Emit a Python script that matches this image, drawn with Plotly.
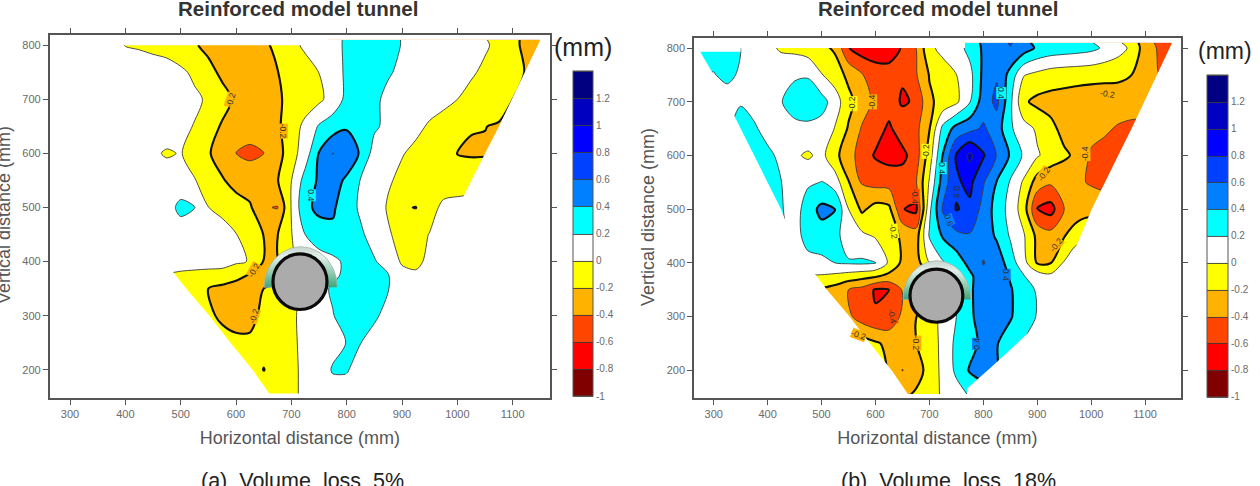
import numpy as np
import plotly.graph_objects as go

N = float("nan")

# Horizontal and vertical positions of the settlement readings (mm)
x_mm = [275, 300, 325, 350, 375, 400, 425, 450, 475, 500, 525, 550,
        575, 600, 625, 650, 675, 700, 725, 750, 775, 800, 825, 850,
        875, 900, 925, 950, 975, 1000, 1025, 1050, 1075, 1100, 1125, 1150]
y_mm = [810, 800, 750, 700, 650, 600, 550, 500, 450, 400, 375, 350, 300, 250, 200, 155]

# Displacement (mm) at volume loss 5 %
z_loss_5 = [
    [N,N,N,N,N,N, N,N,N,N,N,N, N,N,N,N,N,N, N,N,N,.22,.28,.30, .28,.19,N,N,N,N, N,N,-.04,-.15,-.25,-.30],
    [.1,.1,.1,.1,.05,-.005, -.02,-.05,-.09,-.14,-.18,-.25, -.3,-.33,-.3,-.24,-.15,-.05, .03,.1,.16,.22,.28,.3, .28,.19,.15,.12,.1,.08, .05,.02,-.04,-.15,-.25,-.3],
    [N,.1,.1,.1,.1,.1, .1,.1,.1,.04,-.04,-.14, -.24,-.28,-.3,-.25,-.205,-.13, -.07,.002,.12,.23,.3,.28, .22,.16,.12,.1,.08,.05, .02,-.03,-.09,-.15,-.21,N],
    [N,N,.1,.1,.1,.1, .1,.1,.1,.1,.04,-.03, -.13,-.23,-.28,-.27,-.22,-.16, -.1,-.04,.08,.25,.3,.24, .15,.12,.1,.07,.04,0, -.05,-.1,-.15,-.2,N,N],
    [N,N,N,.1,.1,.1, .1,.1,.1,.05,-.01,-.12, -.22,-.3,-.34,-.3,-.23,-.1, .05,.22,.3,.38,.33,.23, .15,.1,.04,-.02,-.06,-.14, -.195,-.198,-.21,-.22,N,N],
    [N,N,N,N,.1,.1, .1,.03,-.02,.01,-.08,-.18, -.3,-.402,-.43,-.405,-.28,-.08, .1,.41,.605,.52,.38,.12, .06,.01,-.04,-.08,-.14,-.205, -.21,-.21,-.21,N,N,N],
    [N,N,N,N,N,.1, .1,.1,.1,.08,.01,-.08, -.18,-.28,-.32,-.3,-.21,-.001, .28,.43,.47,.37,.19,.12, .02,-.04,-.08,-.11,-.14,-.15, -.14,-.13,-.12,N,N,N],
    [N,N,N,N,N,N, .1,.1,.12,.25,.205,.002, -.04,-.1,-.17,-.385,-.41,.01, .36,.44,.42,.32,.16,.1, -.02,-.19,-.203,-.1,.06,.1, .1,N,N,N,N,N],
    [N,N,N,N,N,N, N,.1,.1,.1,.1,.1, .06,.005,-.07,-.205,-.205,-.01, .2,.32,.37,.37,.24,.1, .02,-.06,-.09,.01,.07,.1, N,N,N,N,N,N],
    [N,N,N,N,N,N, N,N,.1,.05,.05,.05, .05,.03,-.01,-.21,-.21,-.02, .05,.1,.15,.24,.3,.22, .1,-.02,-.03,.03,.1,N, N,N,N,N,N,N],
    [N,N,N,N,N,N, N,N,-.01,-.02,-.03,-.04, -.05,-.15,-.21,-.28,-.28,-.1, .05,.1,.15,.25,.33,.3, .21,.05,.02,.1,N,N, N,N,N,N,N,N],
    [N,N,N,N,N,N, N,N,N,-.05,-.09,-.2, -.26,-.27,-.25,-.2,-.15,-.05, .04,.13,.23,.3,.33,.3, .21,.05,.02,N,N,N, N,N,N,N,N,N],
    [N,N,N,N,N,N, N,N,N,N,-.1,-.15, -.25,-.27,-.25,-.16,-.1,-.03, .05,.11,.19,.3,.33,.24, .12,.05,N,N,N,N, N,N,N,N,N,N],
    [N,N,N,N,N,N, N,N,N,N,N,-.08, -.1,-.16,-.17,-.14,-.1,-.03, .04,.08,.13,.205,.205,.1, .1,N,N,N,N,N, N,N,N,N,N,N],
    [N,N,N,N,N,N, N,N,N,N,N,N, N,-.08,-.1,-.205,-.12,-.04, .04,.08,.22,.22,.1,N, N,N,N,N,N,N, N,N,N,N,N,N],
    [N,N,N,N,N,N, N,N,N,N,N,N, N,N,-.08,-.08,-.1,-.05, .05,.1,.1,.1,N,N, N,N,N,N,N,N, N,N,N,N,N,N],
]

# Displacement (mm) at volume loss 18 %
z_loss_18 = [
    [N,N,N,N,N,N, N,N,N,N,N,N, N,N,N,N,N,N, N,N,.25,.45,.5,.62, .5,.3,.25,.25,.22,.21, .12,N,-.1,-.3,-.45,-.5],
    [.25,.28,.28,.2,.1,.04, -.02,-.05,-.1,-.15,-.23,-.59, -.7,-.75,-.7,-.58,-.4,-.05, .06,.12,.26,.43,.5,.59, .5,.37,.32,.3,.28,.25, .17,.08,-.04,-.3,-.42,-.5],
    [N,.19,.25,.17,.1,.1, .1,.17,.18,.01,-.1,-.25, -.39,-.47,-.52,-.58,-.42,-.19, -.1,-.002,.14,.45,.58,.33, .01,-.05,-.1,-.12,-.13,-.14, -.15,-.16,-.2,-.3,-.4,N],
    [N,N,.1,.19,.12,.1, .19,.3,.33,.28,.1,-.14, -.3,-.45,-.52,-.62,-.58,-.23, -.14,-.04,.19,.5,.65,.25, -.17,-.25,-.27,-.28,-.3,-.31, -.31,-.3,-.3,-.3,N,N],
    [N,N,N,.25,.23,.12, .1,.14,.15,.12,-.01,-.22, -.42,-.52,-.63,-.5,-.46,-.21, .26,.47,.54,.63,.5,.23, .08,-.03,-.15,-.26,-.3,-.33, -.37,-.42,-.45,-.45,N,N],
    [N,N,N,N,.22,.25, .15,.03,-.03,.06,-.15,-.31, -.5,-.62,-.67,-.65,-.5,-.1, .41,.82,1.05,.82,.59,.38, .17,.02,-.08,-.17,-.24,-.43, -.47,-.48,-.48,N,N,N],
    [N,N,N,N,N,.25, .205,.1,.17,.205,.1,-.19, -.42,-.47,-.48,-.5,-.42,.02, .5,.77,.85,.62,.39,.18, -.03,-.29,-.37,-.33,-.37,-.42, -.45,-.45,N,N,N,N],
    [N,N,N,N,N,N, .22,.1,.31,.45,.41,.002, -.24,-.12,-.15,-.59,-.65,.15, .63,.81,.76,.53,.32,.13, -.1,-.61,-.68,-.4,-.33,-.28, -.3,N,N,N,N,N],
    [N,N,N,N,N,N, .25,.1,.3,.32,.26,.1, .05,-.02,-.12,-.23,-.3,.22, .42,.55,.58,.52,.37,.18, .02,-.25,-.32,-.21,-.05,-.02, N,N,N,N,N,N],
    [N,N,N,N,N,N, N,.1,.12,.15,.2,.22, .23,.21,-.03,-.24,-.3,.005, .18,.28,.47,.61,.52,.3, .07,-.22,-.205,.02,.1,N, N,N,N,N,N,N],
    [N,N,N,N,N,N, N,N,-.01,-.02,-.05,-.09, -.13,-.18,-.26,-.33,-.35,-.3, -.1,.1,.35,.55,.55,.38, .21,.12,.05,.1,N,N, N,N,N,N,N,N],
    [N,N,N,N,N,N, N,N,N,-.22,-.28,-.4, -.47,-.62,-.6,-.385,-.36,-.25, -.1,.2,.37,.5,.55,.42, .28,.18,.1,N,N,N, N,N,N,N,N,N],
    [N,N,N,N,N,N, N,N,N,N,-.3,-.36, -.5,-.58,-.55,-.36,-.205,-.1, .05,.2,.36,.5,.52,.42, .28,.19,.1,N,N,N, N,N,N,N,N,N],
    [N,N,N,N,N,N, N,N,N,N,N,-.05, -.1,-.17,-.25,-.3,-.205,-.1, .05,.25,.33,.45,.41,.3, .2,N,N,N,N,N, N,N,N,N,N,N],
    [N,N,N,N,N,N, N,N,N,N,N,N, N,-.1,-.22,-.405,-.3,-.12, .05,.24,.42,.47,.4,N, N,N,N,N,N,N, N,N,N,N,N,N],
    [N,N,N,N,N,N, N,N,N,N,N,N, N,N,-.25,-.25,-.17,-.09, .03,.12,.22,.3,N,N, N,N,N,N,N,N, N,N,N,N,N,N],
]
for grid in (z_loss_5, z_loss_18):
    assert all(len(row) == len(x_mm) for row in grid) and len(grid) == len(y_mm)

# Outline of the instrumented zone (mm), walked anticlockwise
zone_x = [275, 300, 325, 350, 375, 400, 425, 440, 465, 487, 510, 552, 590, 630, 660,
          770, 770, 815, 889, 925, 964, 1001, 1025, 1050, 1075, 1098, 1122, 1150,
          766, 766, 350, 350, 275]
zone_y = [793, 750, 700, 650, 600, 550, 500, 460, 400, 380, 350, 300, 250, 200, 156,
          156, 166, 206, 275, 340, 411, 500, 550, 600, 650, 700, 750, 810,
          810, 800, 800, 793, 793]

# One colour per 0.2 mm band, from -1 up to 1.4
band_colors = ["#800000", "#ff0000", "#ff4500", "#ffb300", "#ffff00", "#ffffff",
               "#00ffff", "#0080ff", "#0040ff", "#0000ff", "#0000c0", "#000080"]
bar_ticks = [-1, -0.8, -0.6, -0.4, -0.2, 0, 0.2, 0.4, 0.6, 0.8, 1, 1.2]
bar_labels = ["-1", "-0.8", "-0.6", "-0.4", "-0.2", "0", "0.2", "0.4", "0.6", "0.8", "1", "1.2"]

# Plotly samples a filled band near the stop (i + 1) / 12, so each colour holds flat around it
n_bands = len(band_colors)
colorscale = [[0, band_colors[0]]]
for i, c in enumerate(band_colors):
    colorscale += [[(i + 0.5) / n_bands, c], [min((i + 1.5) / n_bands, 1), c]]

# Contour labels: x, y, text, angle, colour behind the text
labels_5 = [
    (591, 698, "-0.2", -72, "#ffb300"), (685, 642, "-0.2", 90, "#ffb300"),
    (736, 522, "0.4", 90, "#00ffff"), (632, 385, "-0.2", -60, "#ffb300"),
    (632, 300, "-0.2", -72, "#ffb300"),
]
labels_18 = [
    (558, 697, "-0.2", -90, "#ffff00"), (593, 700, "-0.4", -90, "#ffb300"),
    (694, 607, "-0.2", -90, "#ffff00"), (722, 576, "0.4", 90, "#00ffff"),
    (751, 532, "0.8", 90, "#0040ff"), (736, 480, "0.6", 70, "#0080ff"),
    (833, 716, "0.4", 90, "#00ffff"), (673, 523, "-0.4", 90, "#ff4500"),
    (634, 458, "-0.2", 80, "#ffff00"), (1031, 714, "-0.2", 10, "#ffb300"),
    (990, 604, "-0.4", -90, "#ffb300"), (912, 566, "-0.2", -55, "#ffb300"),
    (935, 433, "-0.2", -50, "#ffb300"), (841, 377, "0.4", 90, "#0080ff"),
    (789, 250, "0.4", -90, "#0080ff"), (675, 250, "-0.2", 90, "#ffb300"),
    (632, 300, "-0.4", 80, "#ff4500"), (569, 265, "-0.2", 20, "#ffb300"),
]

W, H = 1260, 486
TICK_GREY = "#6a6a6a"
TEXT_GREY = "#555555"
SANS = "Liberation Sans, Arial, sans-serif"

panels = [
    dict(z=z_loss_5, labels=labels_5, xr=[263.3, 1167.4], yr=[147.7, 819],
         px=(49.7, 550), py=(35, 398), bar=(572.7, 19.5, 71, 396), unit=(583, 47),
         title_x=298, cap_x=302, cap="(a)  Volume  loss  5%", ytitle=(4, 215),
         tunnel=(715.6, 362.8, 48.8, 51.4), lining=(717, 352.4, 66, 75)),
    dict(z=z_loss_18, labels=labels_18, xr=[263.5, 1166], yr=[147.9, 819.2],
         px=(694, 1180.7), py=(37.7, 398.3), bar=(1206.7, 21, 75, 396.7), unit=(1225, 51),
         title_x=938, cap_x=948, cap="(b)  Volume  loss  18%", ytitle=(648, 217),
         tunnel=(713, 339, 49, 49.5), lining=(714, 332, 63, 72)),
]

fig = go.Figure()
annotations, shapes = [], []
layout_axes = {}


def page_text(x, y, text, size, color, bold=False, angle=0):
    """Text placed by page position, centred on that position."""
    return dict(x=x / W, y=1 - y / H, xref="paper", yref="paper", xanchor="center", yanchor="middle",
                showarrow=False, textangle=angle, text=f"<b>{text}</b>" if bold else text,
                font=dict(size=size, color=color, family=SANS))


for k, p in enumerate(panels):
    xa, ya = ("x", "y") if k == 0 else ("x2", "y2")
    # Filled bands with thin outlines
    fig.add_trace(go.Contour(
        x=x_mm, y=y_mm, z=p["z"], xaxis=xa, yaxis=ya, connectgaps=True,
        zmin=-1, zmax=1.4, zauto=False, colorscale=colorscale,
        contours=dict(start=-1, end=1.4, size=0.2, coloring="fill"),
        line=dict(color="#3a3a3a", width=0.9, smoothing=0.85),
        hoverinfo="skip",
        colorbar=dict(
            xref="container", yref="container", x=p["bar"][0] / W, xanchor="left",
            y=1 - p["bar"][3] / H, yanchor="bottom", xpad=0, ypad=0,
            thickness=p["bar"][1], thicknessmode="pixels",
            len=(p["bar"][3] - p["bar"][2]) / H, lenmode="fraction",
            tickvals=bar_ticks, ticktext=bar_labels, ticks="",
            tickfont=dict(size=10, color=TICK_GREY, family=SANS),
            outlinecolor="#555555", outlinewidth=1, ticklabelposition="outside",
        ),
    ))
    # Heavier lines on the alternating contours
    for start, end, size in ((-0.6, -0.2, 0.4), (0.4, 1.2, 0.4)):
        fig.add_trace(go.Contour(
            x=x_mm, y=y_mm, z=p["z"], xaxis=xa, yaxis=ya, connectgaps=True,
            showscale=False, hoverinfo="skip", colorscale=colorscale,
            zmin=-1, zmax=1.4, zauto=False,
            contours=dict(start=start, end=end, size=size, coloring="none"),
            line=dict(color="#111111", width=2.1, smoothing=0.85),
        ))

    # Blank out everything beyond the instrumented zone
    x0, x1 = p["xr"]
    y0, y1 = p["yr"]
    fig.add_trace(go.Scatter(
        x=[x0, x0, x1, x1, x0] + zone_x + [x0],
        y=[y0, y1, y1, y0, y0] + zone_y + [y0],
        xaxis=xa, yaxis=ya, mode="lines", fill="toself", fillcolor="white",
        line=dict(width=0), hoverinfo="skip", showlegend=False,
    ))

    # Tunnel lining: half ring above the springline
    lx, ly, lrx, lry = p["lining"]
    ang = np.linspace(0, np.pi, 60)
    ring_x = np.r_[lx + lrx * np.cos(ang), lx + 0.72 * lrx * np.cos(ang[::-1])]
    ring_y = np.r_[ly + lry * np.sin(ang), ly + 0.72 * lry * np.sin(ang[::-1])]
    fig.add_trace(go.Scatter(
        x=ring_x, y=ring_y, xaxis=xa, yaxis=ya, mode="lines", fill="toself",
        line=dict(color="#9fb5aa", width=0.8), hoverinfo="skip", showlegend=False,
        fillgradient=dict(type="vertical",
                          colorscale=[[0, "#3fa37c"], [0.35, "#8fcbb0"], [0.75, "#e2f0ea"], [1, "#c8d4ce"]]),
    ))
    # Tunnel section
    cx, cy, rx, ry = p["tunnel"]
    shapes.append(dict(type="circle", xref=xa, yref=ya, x0=cx - rx, x1=cx + rx, y0=cy - ry, y1=cy + ry,
                       fillcolor="#ababab", line=dict(color="#0a0a0a", width=3.2)))

    suffix = "" if k == 0 else "2"
    tick_common = dict(
        showgrid=False, zeroline=False, showline=True, linecolor="#555555", linewidth=1.6,
        ticks="outside", ticklen=5, tickwidth=1.2, tickcolor="#555555", mirror="allticks",
        tickfont=dict(size=11, color=TICK_GREY, family=SANS), dtick=100,
    )
    layout_axes["xaxis" + suffix] = dict(
        domain=[p["px"][0] / W, p["px"][1] / W], range=p["xr"], tick0=300, anchor="y" + suffix,
        title=dict(text="Horizontal distance (mm)", font=dict(size=18, color=TEXT_GREY, family=SANS), standoff=12),
        **tick_common,
    )
    layout_axes["yaxis" + suffix] = dict(
        domain=[1 - p["py"][1] / H, 1 - p["py"][0] / H], range=p["yr"], tick0=200, anchor="x" + suffix,
        **tick_common,
    )

    for lx_, ly_, text, angle, bg in p["labels"]:
        annotations.append(dict(x=lx_, y=ly_, xref=xa, yref=ya, text=text, textangle=angle, showarrow=False,
                                font=dict(size=8.5, color="#333333", family=SANS), bgcolor=bg,
                                borderpad=0, borderwidth=0))
    annotations.append(page_text(*p["ytitle"], "Vertical distance (mm)", 18, TEXT_GREY, angle=-90))
    annotations.append(page_text(p["title_x"], 8, "Reinforced model tunnel", 20.5, "#333333", bold=True))
    annotations.append(page_text(p["cap_x"], 481, p["cap"], 21.5, "#222222"))
    annotations.append(page_text(*p["unit"], "(mm)", 25 if k == 0 else 23, "#222222"))

fig.update_layout(
    width=W, height=H, margin=dict(l=0, r=0, t=0, b=0, autoexpand=False), autosize=False,
    paper_bgcolor="white", plot_bgcolor="white", showlegend=False,
    annotations=annotations, shapes=shapes, **layout_axes,
)
fig.write_html("out.html")
